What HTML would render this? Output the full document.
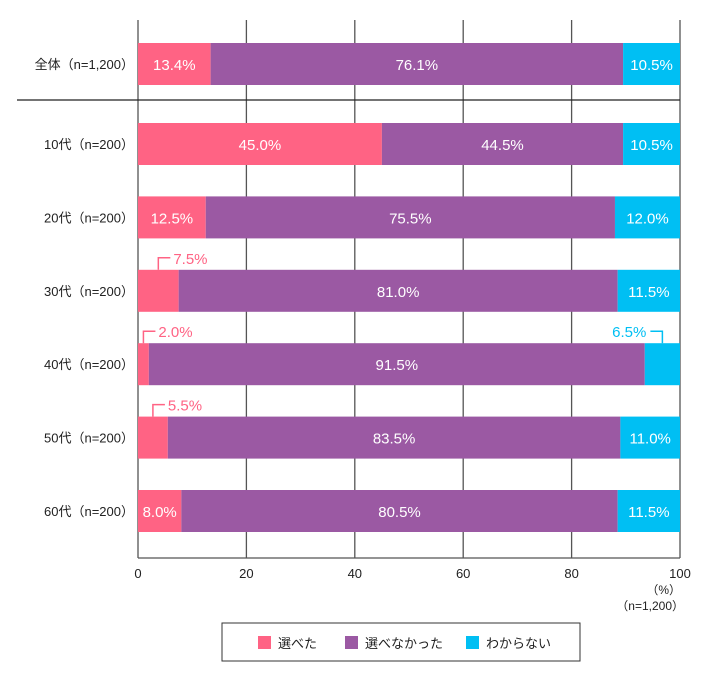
<!DOCTYPE html>
<html><head><meta charset="utf-8"><style>
body{margin:0;background:#fff;font-family:"Liberation Sans","Noto Sans CJK JP",sans-serif}
svg text{font-family:"Liberation Sans","Noto Sans CJK JP",sans-serif}
</style></head><body>
<svg id="c" width="716" height="672"></svg>
<script>
const categories=["全体（n=1,200）","10代（n=200）","20代（n=200）","30代（n=200）","40代（n=200）","50代（n=200）","60代（n=200）"];
const chose=[13.4,45.0,12.5,7.5,2.0,5.5,8.0];
const notChose=[76.1,44.5,75.5,81.0,91.5,83.5,80.5];
const unknown=[10.5,10.5,12.0,11.5,6.5,11.0,11.5];
const ticks=[0,20,40,60,80,100];
const seriesNames=["選べた","選べなかった","わからない"];
const colors=["#ff6384","#9b59a3","#00bff3"];
const NS="http://www.w3.org/2000/svg",svg=document.getElementById('c');
const X0=138,X1=680,x=v=>X0+(X1-X0)*v/100;
const yc=i=>i===0?64:144+(i-1)*73.4;
function el(t,a,p){const e=document.createElementNS(NS,t);for(const k in a)e.setAttribute(k,a[k]);(p||svg).appendChild(e);return e;}
ticks.forEach(t=>{const g=el('line',{x1:x(t),x2:x(t),y1:20,y2:558,stroke:'#555','stroke-width':1.3});


const l=el('text',{x:x(t),y:578,'text-anchor':'middle','font-size':13,fill:'#222'});l.textContent=t;

});
const ax=el('line',{x1:X0,x2:X1,y1:558,y2:558,stroke:'#555','stroke-width':1.3});


const sep=el('line',{x1:17,x2:X1,y1:100,y2:100,stroke:'#222','stroke-width':1.3});


let t1=el('text',{x:681,y:594,'text-anchor':'end','font-size':12,fill:'#222'});t1.textContent='（%）';


let t2=el('text',{x:684,y:610,'text-anchor':'end','font-size':12,fill:'#222'});t2.textContent='（n=1,200）';


categories.forEach((c,i)=>{
 const cy=yc(i);
 const cl=el('text',{x:134,y:cy+5,'text-anchor':'end','font-size':13,fill:'#222'});cl.textContent=c;
 
 
 const vals=[chose[i],notChose[i],unknown[i]];let acc=0;
 vals.forEach((v,s)=>{
  const r=el('rect',{x:x(acc),y:cy-21,width:x(acc+v)-x(acc),height:42,fill:colors[s]});
  
  
  const lab=v.toFixed(1)+'%';
  const w=x(acc+v)-x(acc);
  if(w>=42){const t=el('text',{x:(x(acc)+x(acc+v))/2,y:cy+6,'text-anchor':'middle','font-size':15,fill:'#fff'});t.textContent=lab;
   
   }
  else{
   const mid=(x(acc)+x(acc+v))/2,ly=cy-33;
   let p,t;
   if(s===0){p=el('polyline',{points:`${mid},${cy-21} ${mid},${ly} ${mid+12},${ly}`,fill:'none',stroke:colors[s],'stroke-width':1.5});
    t=el('text',{x:mid+15,y:ly+6,'font-size':15,fill:colors[s]});}
   else{p=el('polyline',{points:`${mid},${cy-21} ${mid},${ly} ${mid-12},${ly}`,fill:'none',stroke:colors[s],'stroke-width':1.5});
    t=el('text',{x:mid-16,y:ly+6,'text-anchor':'end','font-size':15,fill:colors[s]});}
   t.textContent=lab;
   
   
   
   
  }
  acc+=v;});
});
const lb=el('rect',{x:222,y:623,width:358,height:38,fill:'#fff',stroke:'#333','stroke-width':1});


const lx=[258,345,466];
seriesNames.forEach((n,s)=>{
 const r=el('rect',{x:lx[s],y:636,width:13,height:13,fill:colors[s]});
 
 
 const t=el('text',{x:lx[s]+20,y:648,'font-size':13,fill:'#222'});t.textContent=n;
 
 
});
</script>
</body></html>
